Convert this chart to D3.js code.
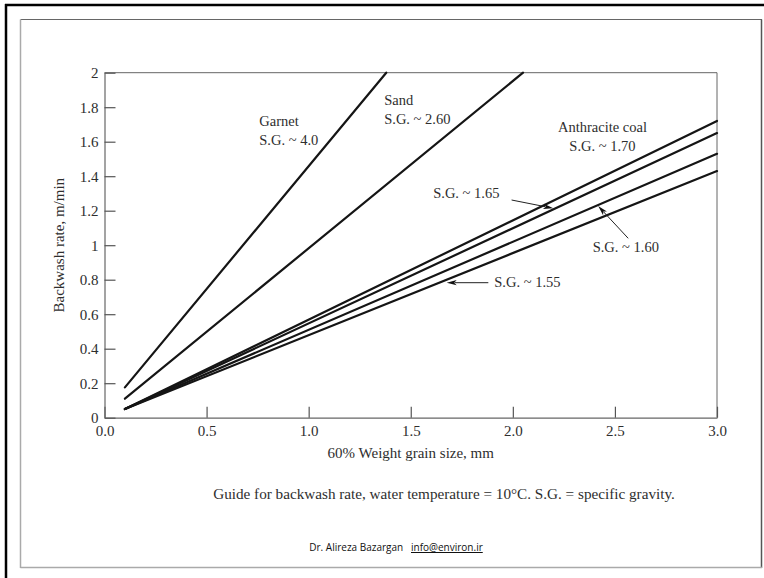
<!DOCTYPE html>
<html><head><meta charset="utf-8">
<script src="https://cdn.jsdelivr.net/npm/d3@7"></script>
<style>body{margin:0;background:#fff}svg{display:block}</style>
</head><body>
<svg id="c" width="764" height="578"></svg>
<script>
// ---- data ----
const seriesNames = ["Garnet S.G. ~ 4.0","Sand S.G. ~ 2.60","Anthracite S.G. ~ 1.70","S.G. ~ 1.65","S.G. ~ 1.60","S.G. ~ 1.55"];
const startSize = [0.1, 0.1, 0.1, 0.1, 0.1, 0.1];
const startRate = [0.176, 0.11, 0.05, 0.05, 0.05, 0.05];
const endSize   = [1.38, 2.05, 3.0, 3.0, 3.0, 3.0];
const endRate   = [2.0, 2.0, 1.72, 1.65, 1.53, 1.43];
const xTicks = [0, 0.5, 1, 1.5, 2, 2.5, 3];
const xTickLabels = ["0.0","0.5","1.0","1.5","2.0","2.5","3.0"];
const yTicks = [0, 0.2, 0.4, 0.6, 0.8, 1, 1.2, 1.4, 1.6, 1.8, 2];
const yTickLabels = ["0","0.2","0.4","0.6","0.8","1","1.2","1.4","1.6","1.8","2"];
const labelLines = [["Garnet","S.G. ~ 4.0"],["Sand","S.G. ~ 2.60"],["Anthracite coal","S.G. ~ 1.70"],["S.G. ~ 1.65"],["S.G. ~ 1.60"],["S.G. ~ 1.55"]];
const xTitle = "60% Weight grain size, mm";
const yTitle = "Backwash rate, m/min";
const caption = "Guide for backwash rate, water temperature = 10\u00B0C. S.G. = specific gravity.";
const author = "Dr. Alireza Bazargan";
const email = "info@environ.ir";

// ---- annotation placement (data coordinates) ----
const labelAt = [
  {x:0.758, y:1.691, anchor:"start"},
  {x:1.370, y:1.813, anchor:"start"},
  {x:2.439, y:1.658, anchor:"middle"},
  {x:1.610, y:1.272, anchor:"start"},
  {x:2.391, y:0.962, anchor:"start"},
  {x:1.909, y:0.756, anchor:"start"}
];
const arrows = [
  {s:3, from:[1.994,1.262], to:[2.198,1.214]},
  {s:4, from:[2.565,1.040], to:[2.418,1.227]},
  {s:5, from:[1.880,0.7826], to:[1.676,0.7826]}
];

// ---- drawing ----
const svg = d3.select("#c");
const W = 764, H = 578;
const x = d3.scaleLinear().domain([0,3]).range([104.5,717]);
const y = d3.scaleLinear().domain([0,2]).range([417.7,72.7]);
const serif = "'Liberation Serif','Times New Roman',serif";
const txt = "#2e2e2e";

// page frames
svg.append("rect").attr("x",0).attr("y",0).attr("width",W).attr("height",H).attr("fill","#fff");
svg.append("line").attr("x1",5).attr("x2",W).attr("y1",5).attr("y2",5).attr("stroke","#000").attr("stroke-width",2.5);
svg.append("line").attr("x1",6).attr("x2",6).attr("y1",4).attr("y2",H).attr("stroke","#000").attr("stroke-width",2.5);
svg.append("line").attr("x1",20.5).attr("x2",762).attr("y1",19.5).attr("y2",19.5).attr("stroke","#666").attr("stroke-width",1.2);
svg.append("line").attr("x1",761.5).attr("x2",761.5).attr("y1",19.5).attr("y2",568).attr("stroke","#555").attr("stroke-width",1.5);
svg.append("line").attr("x1",20.5).attr("x2",20.5).attr("y1",19.5).attr("y2",568).attr("stroke","#aaa").attr("stroke-width",1.5);
svg.append("line").attr("x1",20.5).attr("x2",762).attr("y1",567.5).attr("y2",567.5).attr("stroke","#aaa").attr("stroke-width",1.5);

// plot frame (top, right)
const axCol = "#666";
svg.append("line").attr("x1",x(0)).attr("x2",x(3)).attr("y1",y(2)).attr("y2",y(2)).attr("stroke",axCol).attr("stroke-width",1);
svg.append("line").attr("x1",x(3)).attr("x2",x(3)).attr("y1",y(2)).attr("y2",y(0)).attr("stroke",axCol).attr("stroke-width",1);

// axes
const xAxis = d3.axisBottom(x).tickValues(xTicks).tickFormat((d,i)=>xTickLabels[i]).tickSizeInner(-11).tickSizeOuter(0).tickPadding(8);
const gx = svg.append("g").attr("transform",`translate(0,${y(0)})`).call(xAxis);
const yAxis = d3.axisLeft(y).tickValues(yTicks).tickFormat((d,i)=>yTickLabels[i]).tickSizeInner(-11).tickSizeOuter(0).tickPadding(6);
const gy = svg.append("g").attr("transform",`translate(${x(0)},0)`).call(yAxis);
[gx,gy].forEach(g=>{
  g.select(".domain").attr("stroke",axCol).attr("stroke-width",1.2);
  g.selectAll(".tick line").attr("stroke","#555").attr("stroke-width",1.2);
  g.selectAll(".tick text").attr("fill",txt).style("font-family",serif).style("font-size","15px");
});

// series lines
const lineGen = d3.line().x(d=>x(d[0])).y(d=>y(d[1]));
seriesNames.forEach((n,i)=>{
  svg.append("path").datum([[startSize[i],startRate[i]],[endSize[i],endRate[i]]])
    .attr("d",lineGen).attr("fill","none").attr("stroke","#151515").attr("stroke-width",2.2).attr("stroke-linecap","round");
});

// labels
labelLines.forEach((lines,i)=>{
  const p = labelAt[i];
  const t = svg.append("text").attr("x",x(p.x)).attr("y",y(p.y)).attr("text-anchor",p.anchor)
    .attr("fill",txt).style("font-family",serif).style("font-size","14.5px");
  lines.forEach((l,j)=>{
    t.append("tspan").attr("x",x(p.x)).attr("dy", j===0?0:"1.32em").text(l);
  });
});

// arrows
arrows.forEach(a=>{
  const x1=x(a.from[0]), y1=y(a.from[1]), x2=x(a.to[0]), y2=y(a.to[1]);
  const dx=x2-x1, dy=y2-y1, L=Math.hypot(dx,dy), ux=dx/L, uy=dy/L;
  const hl=10, hw=2.6;
  const bx=x2-ux*hl, by=y2-uy*hl;
  svg.append("line").attr("x1",x1).attr("y1",y1).attr("x2",bx+ux*2).attr("y2",by+uy*2).attr("stroke","#222").attr("stroke-width",1);
  svg.append("path").attr("d",`M${x2},${y2}L${bx-uy*hw},${by+ux*hw}L${bx+ux*2.5},${by+uy*2.5}L${bx+uy*hw},${by-ux*hw}Z`).attr("fill","#111");
});

// axis titles
svg.append("text").attr("x",(x(0)+x(3))/2).attr("y",458).attr("text-anchor","middle")
  .attr("fill",txt).style("font-family",serif).style("font-size","15px").text(xTitle);
svg.append("text").attr("transform",`translate(64,${(y(0)+y(2))/2}) rotate(-90)`).attr("text-anchor","middle")
  .attr("fill",txt).style("font-family",serif).style("font-size","15px").text(yTitle);

// caption
svg.append("text").attr("x",444).attr("y",499).attr("text-anchor","middle")
  .attr("fill",txt).style("font-family",serif).style("font-size","15.2px").text(caption);

// author line
const at = svg.append("text").attr("x",396).attr("y",551).attr("text-anchor","middle")
  .attr("fill","#111").style("font-family","'Open Sans','Noto Sans',sans-serif").style("font-size","10px");
at.append("tspan").text(author + "\u00A0\u00A0\u00A0");
at.append("tspan").attr("text-decoration","underline").text(email);
</script>
</body></html>
